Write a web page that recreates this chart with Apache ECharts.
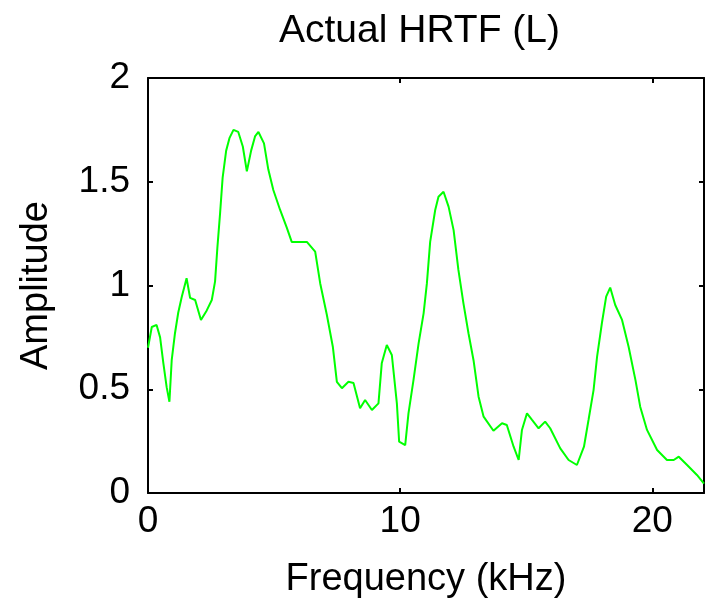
<!DOCTYPE html>
<html>
<head>
<meta charset="utf-8">
<title>Actual HRTF (L)</title>
<script src="https://cdn.jsdelivr.net/npm/echarts@6/dist/echarts.min.js"></script>
<style>
  html, body { margin: 0; padding: 0; background: #fff; }
  #chart { width: 707px; height: 607px; }
</style>
</head>
<body>
<div id="chart"></div>
<script>
// frequency (kHz) and amplitude
var freqKHz = [0, 0.15, 0.34, 0.48, 0.61, 0.74, 0.85, 0.94, 1.07, 1.2, 1.34, 1.53, 1.67, 1.87, 2.1, 2.33, 2.53, 2.66, 2.75, 2.86,
    2.96, 3.1, 3.23, 3.39, 3.58, 3.76, 3.92, 4.09, 4.25, 4.38, 4.6, 4.77, 4.97, 5.24, 5.5, 5.7, 6.3, 6.63, 6.83, 7.09,
    7.33, 7.49, 7.69, 7.95, 8.15, 8.41, 8.61, 8.88, 9.14, 9.27, 9.47, 9.67, 9.87, 9.96, 10.2, 10.33, 10.53, 10.73, 10.93, 11.06,
    11.19, 11.39, 11.52, 11.72, 11.92, 12.12, 12.31, 12.51, 12.71, 12.91, 13.11, 13.31, 13.7, 14.04, 14.23, 14.5, 14.7, 14.83, 15.03, 15.23,
    15.49, 15.75, 15.95, 16.35, 16.68, 17.01, 17.29, 17.47, 17.67, 17.81, 18.0, 18.17, 18.33, 18.53, 18.8, 19.06, 19.33, 19.52, 19.79, 20.19,
    20.58, 20.85, 21.05, 21.38, 21.77, 22.05];
var amplitude = [0.7, 0.8, 0.81, 0.75, 0.625, 0.51, 0.44, 0.64, 0.77, 0.87, 0.946, 1.035, 0.94, 0.93, 0.834, 0.88, 0.93, 1.02, 1.18, 1.35,
    1.52, 1.65, 1.71, 1.75, 1.74, 1.67, 1.55, 1.65, 1.72, 1.74, 1.685, 1.56, 1.46, 1.364, 1.28, 1.21, 1.21, 1.163, 1.01, 0.86,
    0.705, 0.535, 0.505, 0.536, 0.53, 0.408, 0.448, 0.4, 0.432, 0.625, 0.713, 0.665, 0.432, 0.247, 0.231, 0.384, 0.545, 0.72, 0.866, 1.01,
    1.21, 1.364, 1.428, 1.452, 1.38, 1.267, 1.075, 0.914, 0.77, 0.64, 0.464, 0.368, 0.3, 0.336, 0.328, 0.223, 0.159, 0.304, 0.384, 0.352,
    0.312, 0.344, 0.312, 0.215, 0.159, 0.135, 0.223, 0.352, 0.496, 0.657, 0.818, 0.946, 0.99, 0.906, 0.834, 0.705, 0.545, 0.416, 0.304, 0.207,
    0.159, 0.159, 0.175, 0.135, 0.087, 0.045];

var FONT = '"Liberation Sans", Arial, sans-serif';
var points = freqKHz.map(function (f, i) { return [f, amplitude[i]]; });

// black box round the plot, ticks pointing inwards
var boxLine = { show: true, onZero: false, lineStyle: { color: '#000', width: 2 } };
var innerTick = { show: true, inside: true, length: 5, lineStyle: { color: '#000', width: 2 } };

var chart = echarts.init(document.getElementById('chart'));
chart.setOption({
    animation: false,
    title: {
        text: 'Actual HRTF (L)',
        left: 274,
        top: 7,
        textStyle: { fontFamily: FONT, fontSize: 39, fontWeight: 'normal', color: '#000' }
    },
    grid: { left: 148, right: 2, top: 78, bottom: 114 },
    xAxis: [
        {
            type: 'value', position: 'bottom', min: 0, max: 22.05, interval: 10,
            name: 'Frequency (kHz)', nameLocation: 'middle', nameGap: 68,
            nameTextStyle: { fontFamily: FONT, fontSize: 38, color: '#000' },
            axisLine: boxLine, axisTick: innerTick, splitLine: { show: false },
            axisLabel: {
                fontFamily: FONT, fontSize: 37, color: '#000', margin: 10,
                formatter: function (v) { return v % 10 === 0 ? String(v) : ''; }
            }
        },
        {
            type: 'value', position: 'top', min: 0, max: 22.05, interval: 10,
            axisLine: boxLine, axisTick: innerTick, splitLine: { show: false },
            axisLabel: { show: false }
        }
    ],
    yAxis: [
        {
            type: 'value', position: 'left', min: 0, max: 2, interval: 0.5,
            name: 'Amplitude', nameLocation: 'middle', nameGap: 92,
            nameTextStyle: { fontFamily: FONT, fontSize: 38, color: '#000' },
            axisLine: boxLine, axisTick: innerTick, splitLine: { show: false },
            axisLabel: { fontFamily: FONT, fontSize: 37, color: '#000', margin: 18 }
        },
        {
            type: 'value', position: 'right', min: 0, max: 2, interval: 0.5,
            axisLine: boxLine, axisTick: innerTick, splitLine: { show: false },
            axisLabel: { show: false }
        }
    ],
    series: [
        {
            type: 'line',
            xAxisIndex: 0,
            yAxisIndex: 0,
            data: points,
            showSymbol: false,
            lineStyle: { color: '#00ff00', width: 2 }
        }
    ]
});
</script>
</body>
</html>
